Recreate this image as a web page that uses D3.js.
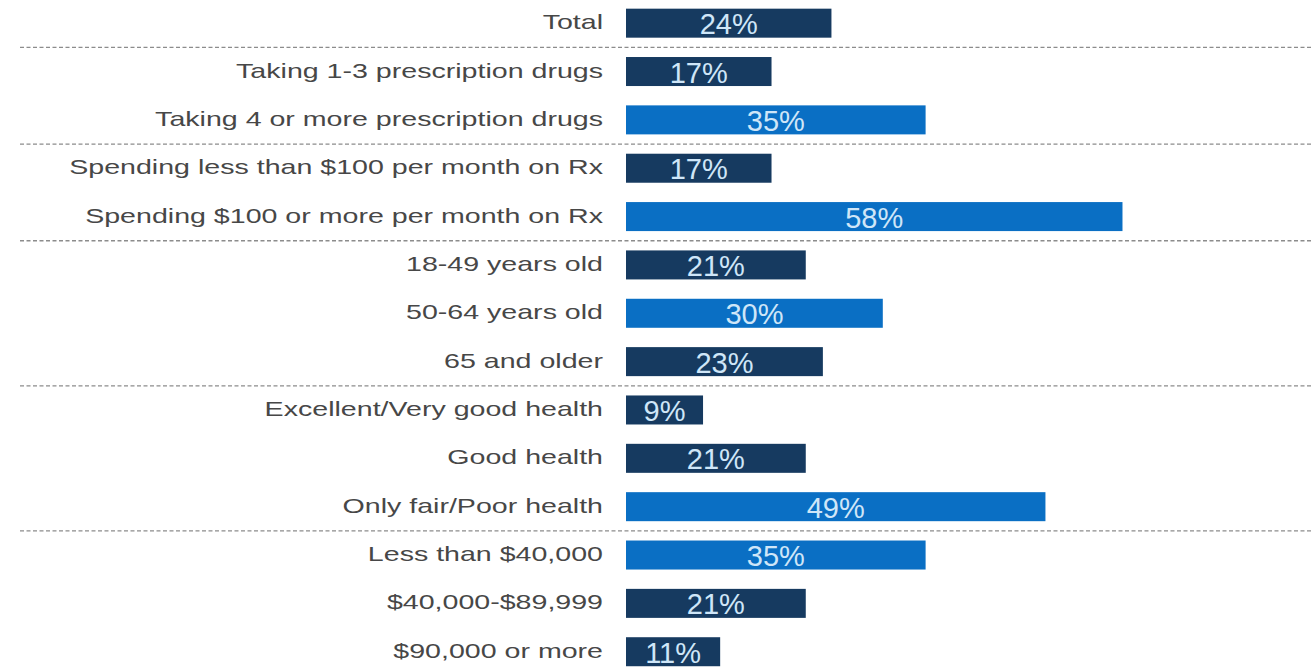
<!DOCTYPE html>
<html>
<head>
<meta charset="utf-8">
<script src="https://cdn.jsdelivr.net/npm/d3@7"></script>
<style>
  html, body { margin: 0; padding: 0; background: #fff; }
  svg { display: block; }
</style>
</head>
<body>
<svg id="chart" width="1312" height="667"></svg>
<script>
// Share of adults reporting the outcome, by group
const categories = [
  "Total",
  "Taking 1-3 prescription drugs",
  "Taking 4 or more prescription drugs",
  "Spending less than $100 per month on Rx",
  "Spending $100 or more per month on Rx",
  "18-49 years old",
  "50-64 years old",
  "65 and older",
  "Excellent/Very good health",
  "Good health",
  "Only fair/Poor health",
  "Less than $40,000",
  "$40,000-$89,999",
  "$90,000 or more"
];
const values = [24, 17, 35, 17, 58, 21, 30, 23, 9, 21, 49, 35, 21, 11];
// true = highlighted group (bright blue), false = comparison group (navy)
const highlighted = [false, false, true, false, true, false, true, false, false, false, true, true, false, false];
// separators drawn after these row indices
const groupBreaks = [0, 2, 4, 7, 10];

const svg = d3.select("#chart");
const W = 1312, H = 667;

const x = d3.scaleLinear().domain([0, 100]).range([626, 626 + 856]);
const y = d3.scaleBand()
  .domain(d3.range(categories.length))
  .range([-1, 47 + 48.3 * 13 + 1])
  .paddingInner(0.4)
  .paddingOuter(0.2);

const centerOf = i => y(i) + y.bandwidth() / 2;

// dashed group separators
svg.append("g").selectAll("line")
  .data(groupBreaks)
  .join("line")
  .attr("x1", 20).attr("x2", W)
  .attr("y1", d => (centerOf(d) + centerOf(d + 1)) / 2)
  .attr("y2", d => (centerOf(d) + centerOf(d + 1)) / 2)
  .attr("stroke", "#8c8c8c")
  .attr("stroke-width", 1.3)
  .attr("stroke-dasharray", "4,2.5");

// bars
svg.append("g").selectAll("rect")
  .data(values)
  .join("rect")
  .attr("x", x(0))
  .attr("y", (d, i) => y(i))
  .attr("width", d => x(d) - x(0))
  .attr("height", y.bandwidth())
  .attr("fill", (d, i) => highlighted[i] ? "#0a6fc4" : "#163a60");

// value labels inside bars
svg.append("g").selectAll("text")
  .data(values)
  .join("text")
  .attr("x", d => (x(0) + x(d)) / 2)
  .attr("y", (d, i) => centerOf(i) + 11)
  .attr("text-anchor", "middle")
  .attr("font-family", "Liberation Sans, Arial, sans-serif")
  .attr("font-size", 29)
  .attr("fill", "#cfe6f8")
  .text(d => d + "%");

// category labels (wide setting)
svg.append("g").selectAll("text")
  .data(categories)
  .join("text")
  .attr("transform", (d, i) => `translate(603,${centerOf(i) + 6}) scale(1.43,1)`)
  .attr("text-anchor", "end")
  .attr("font-family", "Liberation Sans, Arial, sans-serif")
  .attr("font-size", 20)
  .attr("fill", "#474747")
  .text(d => d);
</script>
</body>
</html>
